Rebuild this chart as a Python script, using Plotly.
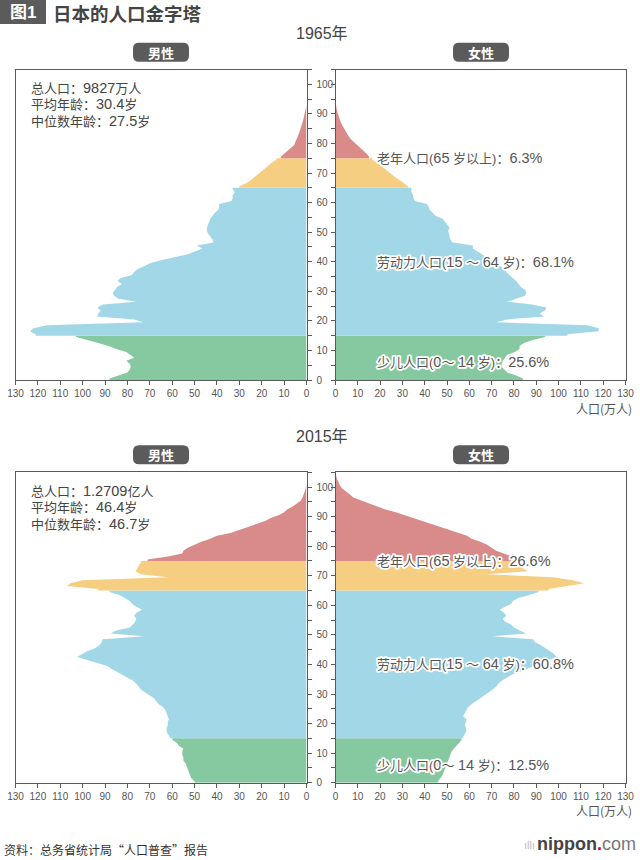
import re
import plotly.graph_objects as go

# ---------------- data (万人, index = age) ----------------
male_1965 = [88, 84, 80, 79, 78.5, 79, 80.5, 77, 79, 80.5,
             85, 88.5, 93, 98, 103,
             121, 123.5, 122, 116, 73, 77, 93.5, 93, 92, 93.5,
             91, 76, 84, 86, 86.5, 85.5, 84.5, 82.5, 84.5, 83,
             78, 77, 75.5, 72.5, 70, 65, 59, 53, 49.5, 46.5,
             49, 41.5, 42, 43, 44, 44.5, 44.5, 44, 43.5, 43,
             42, 41, 39.5, 39, 39, 33.5, 33, 33, 32, 33,
             30, 27, 25, 23.5, 22, 20, 18.5, 17, 15.5, 13.5,
             11.5, 10, 8.5, 7, 5.5, 5, 4.3, 3.8, 3.3, 2.8,
             2.3, 1.9, 1.6, 1.3, 1.0, 0.7, 0.4, 0.2]
female_1965 = [84, 81, 77, 75.5, 74.5, 74.5, 75, 76, 77, 80.5,
               82.5, 82.5, 84.5, 88.5, 94,
               104, 118, 118, 113, 72, 77, 93.5, 91.5, 94, 94.5,
               88, 77, 81, 85, 85.5, 85, 83, 82, 81, 79.5,
               78, 76.5, 76, 74, 71.5, 70, 67.5, 65.5, 63.5, 61.5,
               61.7, 52.5, 51.5, 51.2, 51, 50.5, 51.2, 50, 49, 48,
               45, 43.5, 42.3, 41.8, 41, 35.6, 35, 34.8, 34, 34,
               32.5, 31, 29, 27, 25, 23.5, 22, 20.5, 18.5, 16.5,
               15, 14, 12.5, 11, 9.5, 8, 6.8, 5.8, 5, 4.2,
               3.4, 2.8, 2.2, 1.7, 1.3, 0.9, 0.6, 0.3, 0.1]
male_2015 = [50, 51.5, 52, 52.5, 53, 53.5, 54, 55, 55, 55.5,
             55.5, 55, 57, 58, 60,
             61, 62, 62.5, 62.5, 62, 62, 61.5, 62, 62.5, 63,
             64, 66, 67, 68, 70, 72, 74, 75, 76, 77.5,
             80, 82, 85, 87, 89, 93, 98, 102.5, 100.5, 98,
             94.5, 92.5, 91.5, 91, 72.5, 87.5, 85, 79, 77.5, 76.5,
             76, 77, 76, 73.5, 76, 78, 79, 81, 83.5, 88,
             93, 107, 105.5, 100, 62, 74, 76.5, 75.5, 75, 74,
             71, 62, 55.5, 55, 53, 50, 47, 43, 40, 34,
             30, 26, 22, 18.5, 16, 12.5, 10, 8.5, 6, 4.5,
             2.5, 1.8, 1.2, 0.8, 0.4, 0.2]
female_2015 = [46, 47, 48, 48.5, 49, 49.5, 50, 50.5, 51, 51.2,
               52, 53, 54.5, 55.5, 56.5,
               57.2, 58, 58.7, 58.5, 58, 58.5, 58.7, 57.2, 58, 58.5,
               59.4, 61, 63, 64.6, 67, 69.1, 70.5, 72.1, 73, 74.5,
               76.6, 79, 82.6, 86, 89, 92, 96, 99, 98, 96,
               94, 92.2, 89.5, 88.5, 70.6, 85.5, 82.6, 80, 78.8, 76,
               75, 76.6, 75.5, 73.6, 76, 78.8, 79.5, 82, 87, 91,
               95.5, 103.4, 111.5, 106.4, 97.5, 67.6, 86.3, 84, 82.5, 81,
               83, 79, 75, 72, 70, 68, 65, 61, 59, 55,
               52, 47, 44, 40, 36, 31, 27, 22, 18.5, 15,
               11, 8, 6.5, 4.5, 3, 2, 1.3, 0.8, 0.4, 0.1]

group_edges = [0, 15, 65, 75, 200]
group_colors = ["#86c9a0", "#a2d7e8", "#f6ce82", "#d98b8a"]

stats_1965 = ["总人口：9827万人", "平均年龄：30.4岁", "中位数年龄：27.5岁"]
stats_2015 = ["总人口：1.2709亿人", "平均年龄：46.4岁", "中位数年龄：46.7岁"]
share_labels = ["少儿人口(0～ 14 岁)：", "劳动力人口(15 ～ 64 岁)：", "老年人口(65 岁以上)："]
share_1965 = ["25.6%", "68.1%", "6.3%"]
share_2015 = ["12.5%", "60.8%", "26.6%"]
share_label_ages = [6, 40, 75]

# ---------------- helpers ----------------
W, H = 640, 860
def px(x):
    return x / W
def py(y):
    return 1 - y / H

CJK = "Noto Sans CJK SC"
MIX = "Liberation Sans, Noto Sans CJK SC"
TICKF = "Liberation Sans"
AX = "#5a5a5a"

def mixed(s, big=14.5):
    return re.sub(r"([0-9][0-9.%]*)", lambda m: f"<span style='font-size:{big}px'>{m.group(1)}</span>", s)

fig = go.Figure()

def add_pyramid(values, xa, ya):
    n = len(values)
    for gi in range(4):
        a0, a1 = group_edges[gi], min(group_edges[gi + 1], n)
        if a0 >= a1:
            continue
        xs = [0, values[a0]] + [values[a] for a in range(a0, a1)] + [values[a1 - 1], 0]
        ys = [a0, a0] + [a + 0.5 for a in range(a0, a1)] + [a1, a1]
        fig.add_trace(go.Scatter(x=xs, y=ys, xaxis=xa, yaxis=ya, mode="lines",
                                 line=dict(width=0, color=group_colors[gi]),
                                 fill="toself", fillcolor=group_colors[gi],
                                 hoverinfo="skip", showlegend=False))

add_pyramid(male_1965, "x", "y")
add_pyramid(female_1965, "x2", "y2")
add_pyramid(male_2015, "x3", "y3")
add_pyramid(female_2015, "x4", "y4")

LX = [px(15.5), px(306.5)]
RX = [px(335.5), px(625.5)]
TOPY = [py(380), py(69.5)]
BOTY = [py(782.7), py(472.3)]

def xaxis(domain, anchor, rng):
    return dict(domain=domain, anchor=anchor, range=rng, tick0=0, dtick=10,
                showline=True, linecolor=AX, linewidth=1, mirror=True, automargin=False,
                ticks="outside", ticklen=4, tickcolor=AX, showgrid=False, zeroline=False,
                tickfont=dict(family=TICKF, size=10, color="#555"), fixedrange=True)

def yaxis(domain, anchor, side, labels):
    return dict(domain=domain, anchor=anchor, side=side, range=[0, 105], tick0=0, dtick=10,
                showline=True, linecolor=AX, linewidth=1, mirror=True, automargin=False,
                ticks="outside", ticklen=4, tickcolor=AX, showgrid=False, zeroline=False,
                showticklabels=labels, ticklabelstandoff=3,
                minor=dict(dtick=5, ticks="outside", ticklen=4, tickcolor=AX),
                tickfont=dict(family=TICKF, size=10, color="#555"), fixedrange=True)

fig.update_layout(
    width=W, height=H, margin=dict(l=0, r=0, t=0, b=0, autoexpand=False),
    paper_bgcolor="white", plot_bgcolor="white",
    xaxis=xaxis(LX, "y", [130, 0]),
    yaxis=yaxis(TOPY, "x", "right", True),
    xaxis2=xaxis(RX, "y2", [0, 130]),
    yaxis2=yaxis(TOPY, "x2", "left", False),
    xaxis3=xaxis(LX, "y3", [130, 0]),
    yaxis3=yaxis(BOTY, "x3", "right", True),
    xaxis4=xaxis(RX, "y4", [0, 130]),
    yaxis4=yaxis(BOTY, "x4", "left", False),
)

shapes = []
annotations = []

def pill(cx, cy, text, w=56, h=19, r=6):
    x0, x1, y0, y1 = cx - w / 2, cx + w / 2, cy - h / 2, cy + h / 2
    P = lambda x, y: f"{px(x):.5f},{py(y):.5f}"
    path = (f"M{P(x0 + r, y0)} L{P(x1 - r, y0)} Q{P(x1, y0)} {P(x1, y0 + r)} "
            f"L{P(x1, y1 - r)} Q{P(x1, y1)} {P(x1 - r, y1)} L{P(x0 + r, y1)} "
            f"Q{P(x0, y1)} {P(x0, y1 - r)} L{P(x0, y0 + r)} Q{P(x0, y0)} {P(x0 + r, y0)} Z")
    shapes.append(dict(type="path", path=path, xref="paper", yref="paper",
                       fillcolor="#5b5b5b", line=dict(width=0), layer="above"))
    annotations.append(dict(x=px(cx), y=py(cy), xref="paper", yref="paper", text=f"<b>{text}</b>",
                            showarrow=False, xanchor="center", yanchor="middle",
                            font=dict(family=CJK, size=13, color="white")))

def txt(x, y, text, size=13, color="#444", xanchor="left", family=CJK, **kw):
    annotations.append(dict(x=px(x), y=py(y), xref="paper", yref="paper", text=text,
                            showarrow=False, xanchor=xanchor, yanchor="middle", borderpad=0,
                            font=dict(family=family, size=size, color=color, **kw)))

# title
shapes.append(dict(type="rect", xref="paper", yref="paper", x0=0, x1=px(46), y0=py(24), y1=py(0),
                   fillcolor="#5b5b5b", line=dict(width=0)))
txt(23, 12.5, "<b>图1</b>", size=17, color="white", xanchor="center", family=MIX)
txt(51.5, 12.5, "<b>日本的人口金字塔</b>", size=18.5, color="#444")

# panels
for year, ytitle, pill_y, stats, stats_y0, shares, yax in [
        ("1965年", 33, 52.3, stats_1965, 87.7, share_1965, "y2"),
        ("2015年", 436.7, 454.7, stats_2015, 490.5, share_2015, "y4")]:
    txt(322, ytitle, year, size=16, color="#444", xanchor="center", family=MIX)
    pill(161, pill_y, "男性")
    pill(481, pill_y, "女性")
    for i, s in enumerate(stats):
        txt(30, stats_y0 + i * 16.5, mixed(s), size=13, color="#444", family=MIX)
    for lab, val, age in zip(share_labels, shares, share_label_ages):
        annotations.append(dict(x=px(375), y=age, xref="paper", yref=yax,
                                text=mixed(lab + val), showarrow=False, xanchor="left", yanchor="middle",
                                font=dict(family=MIX, size=13, color="#555")))

txt(633, 408, "人口(万人)", size=12, color="#555", xanchor="right")
txt(633, 810, "人口(万人)", size=12, color="#555", xanchor="right")

# footer
txt(3, 849, "资料：总务省统计局“人口普查”报告", size=12, color="#333")
txt(637, 844, "<b>nippon</b><span style='color:#e60012'><b>.</b></span><span style='color:#777'>com</span>",
    size=18, color="#444", xanchor="right", family="Liberation Sans")
txt(536, 845, "ıllı", size=11, color="#bbb", xanchor="right", family="Liberation Sans")

fig.update_layout(shapes=shapes, annotations=annotations)

POST = """
document.body.style.margin='0';document.body.style.padding='0';
document.documentElement.style.overflow='hidden';
document.querySelectorAll('.annotation-text').forEach(function(t){
  if (t.textContent.indexOf('%') >= 0) {
    t.style.stroke = 'white'; t.style.strokeWidth = '3.5px';
    t.style.paintOrder = 'stroke fill'; t.style.strokeLinejoin = 'round';
  }
});
"""
fig.write_html("out.html", config={"displayModeBar": False}, post_script=POST)
